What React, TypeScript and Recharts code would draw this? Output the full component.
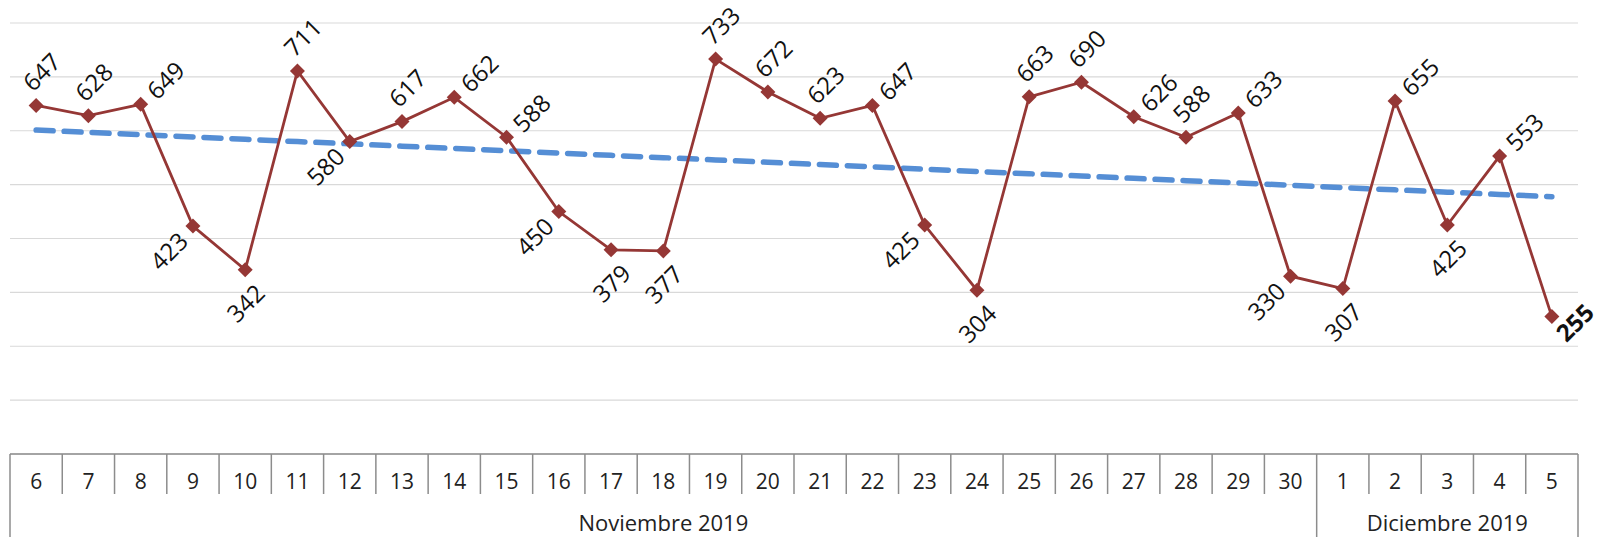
import React from "react";
import {
  CartesianGrid,
  ComposedChart,
  LabelList,
  Line,
  XAxis,
  YAxis,
} from "recharts";

const days = [
  "6", "7", "8", "9", "10", "11", "12", "13", "14", "15", "16", "17", "18",
  "19", "20", "21", "22", "23", "24", "25", "26", "27", "28", "29", "30",
  "1", "2", "3", "4", "5",
];
const visits = [
  647, 628, 649, 423, 342, 711, 580, 617, 662, 588, 450, 379, 377, 733, 672,
  623, 647, 425, 304, 663, 690, 626, 588, 633, 330, 307, 655, 425, 553, 255,
];
const months = ["Noviembre 2019", "Diciembre 2019"];
const monthSpans = [25, 5];
const yTicks = [0, 100, 200, 300, 400, 500, 600, 700, 800];
// where each data label sits: a = above, b = below, r = right, l = lower left
const labelPlacement = [
  "a", "a", "r", "l", "b", "a", "l", "a", "r", "r", "l", "b", "b", "a", "a",
  "a", "r", "l", "b", "a", "a", "r", "a", "r", "l", "b", "r", "b", "r", "R",
];

const W = 1606;
const H = 542;
const M = { top: 23, right: 28, left: 10, bottom: 0 };
const AXIS_H = 88;
const AXIS_TOP = H - AXIS_H;
const BAND = (W - M.left - M.right) / days.length;
const FONT = "'Open Sans', sans-serif";
const RED = "#953735";

// linear trend (least squares) like the spreadsheet trendline
const n = visits.length;
const mx = (n - 1) / 2;
const my = visits.reduce((s, v) => s + v, 0) / n;
let sxy = 0;
let sxx = 0;
visits.forEach((v, i) => {
  sxy += (i - mx) * (v - my);
  sxx += (i - mx) * (i - mx);
});
const slope = sxy / sxx;

const data = days.map((d, i) => ({
  day: d,
  visits: visits[i],
  trend: my + slope * (i - mx),
}));

const monthStarts = monthSpans.map((_, k) =>
  monthSpans.slice(0, k).reduce((s, v) => s + v, 0)
);

function DayTick(props: any) {
  const { x, payload, index } = props;
  const left = x - BAND / 2;
  const k = monthStarts.indexOf(index);
  const last = index === days.length - 1;
  return (
    <g>
      <line
        x1={left}
        x2={left}
        y1={AXIS_TOP}
        y2={k >= 0 ? H - 5 : AXIS_TOP + 40}
        stroke="#8c8c8c"
        strokeWidth={1.5}
      />
      {last && (
        <line
          x1={x + BAND / 2}
          x2={x + BAND / 2}
          y1={AXIS_TOP}
          y2={H - 5}
          stroke="#8c8c8c"
          strokeWidth={1.5}
        />
      )}
      <text
        x={x}
        y={AXIS_TOP + 27}
        textAnchor="middle"
        dominantBaseline="central"
        fontFamily={FONT}
        fontSize={21}
        fill="#222"
      >
        {payload.value}
      </text>
      {k >= 0 && (
        <text
          x={left + (monthSpans[k] * BAND) / 2}
          y={AXIS_TOP + 68}
          textAnchor="middle"
          dominantBaseline="central"
          fontFamily={FONT}
          fontSize={22}
          fill="#222"
        >
          {months[k]}
        </text>
      )}
    </g>
  );
}

function Diamond(props: any) {
  const { cx, cy } = props;
  if (cx == null || cy == null) return null;
  const r = 7.5;
  return (
    <polygon
      points={`${cx},${cy - r} ${cx + r},${cy} ${cx},${cy + r} ${cx - r},${cy}`}
      fill={RED}
    />
  );
}

function ValueLabel(props: any) {
  const { x, y, value, index } = props;
  const p = labelPlacement[index];
  let tx = x;
  let ty = y;
  let anchor = "middle";
  if (p === "a") {
    tx = x + 5;
    ty = y - 34;
  } else if (p === "b") {
    tx = x;
    ty = y + 33;
  } else if (p === "r") {
    tx = x + 10;
    ty = y - 10;
    anchor = "start";
  } else if (p === "l") {
    tx = x - 10;
    ty = y + 10;
    anchor = "end";
  } else if (p === "R") {
    tx = x + 8;
    ty = y + 20;
    anchor = "start";
  }
  return (
    <text
      x={tx}
      y={ty}
      textAnchor={anchor}
      dominantBaseline="central"
      transform={`rotate(-45 ${tx} ${ty})`}
      fontFamily={FONT}
      fontSize={24}
      fontWeight={p === "R" ? 700 : 400}
      fill="#111"
    >
      {value}
    </text>
  );
}

export default function App() {
  return (
    <div style={{ position: "fixed", left: 0, top: 0, background: "#fff" }}>
      <ComposedChart width={W} height={H} data={data} margin={M}>
        <CartesianGrid vertical={false} stroke="#d9d9d9" strokeWidth={1.2} />
        <XAxis
          dataKey="day"
          scale="band"
          interval={0}
          height={AXIS_H}
          tickLine={false}
          axisLine={{ stroke: "#8c8c8c", strokeWidth: 1.5 }}
          tick={<DayTick />}
        />
        <YAxis hide domain={[0, 800]} ticks={yTicks} />
        <Line
          dataKey="trend"
          stroke="#558ed5"
          strokeWidth={5.5}
          strokeDasharray="17 11"
          strokeLinecap="round"
          dot={false}
          activeDot={false}
          isAnimationActive={false}
        />
        <Line
          dataKey="visits"
          stroke={RED}
          strokeWidth={2.8}
          dot={<Diamond />}
          activeDot={false}
          isAnimationActive={false}
        >
          <LabelList dataKey="visits" content={<ValueLabel />} />
        </Line>
      </ComposedChart>
    </div>
  );
}
